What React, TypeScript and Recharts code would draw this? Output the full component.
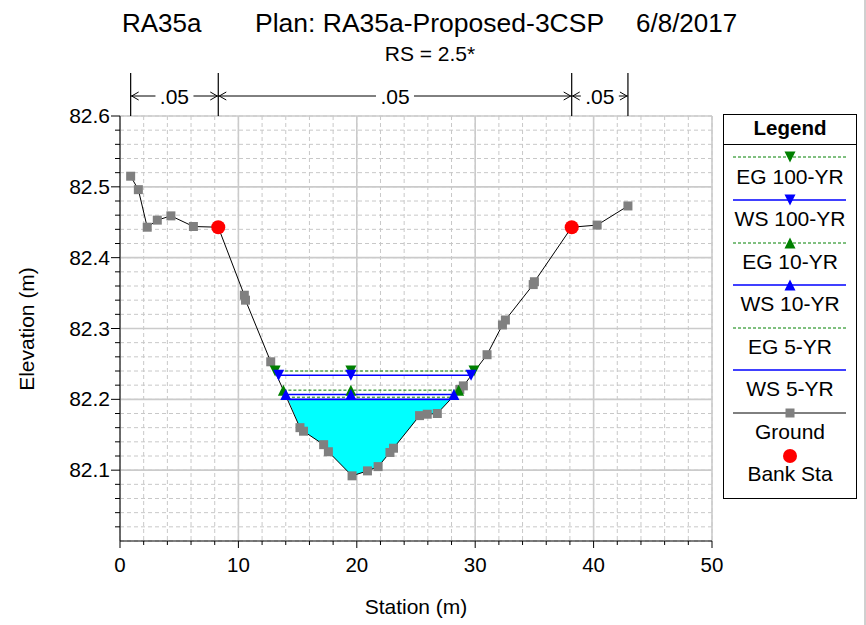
import React from 'react';
import {
  ComposedChart,
  Line,
  Area,
  XAxis,
  YAxis,
  CartesianGrid,
  ReferenceLine,
  Legend,
} from 'recharts';

// ---------- data ----------
const groundStations = [
  0.9, 1.55, 2.3, 3.15, 4.3, 6.2, 8.3, 10.5, 10.6, 12.73, 15.2, 15.5, 17.2, 17.6, 19.6, 20.9,
  21.8, 22.8, 23.1, 25.3, 25.95, 26.8, 28.7, 29.0, 31.0, 32.3, 32.55, 34.9, 35.0, 38.15, 40.3, 42.9,
];
const groundElevations = [
  82.515, 82.496, 82.443, 82.453, 82.459, 82.444, 82.443, 82.347, 82.34, 82.253, 82.16, 82.155,
  82.136, 82.126, 82.092, 82.099, 82.105, 82.125, 82.131, 82.177, 82.179, 82.18, 82.214, 82.219,
  82.263, 82.305, 82.312, 82.362, 82.366, 82.443, 82.446, 82.473,
];
const bankStations = [8.3, 38.15];
const bankElevations = [82.443, 82.443];

// water surface / energy grade profiles: stations where drawn (ends + middle marker)
const eg100Stations = [13.1, 19.5, 29.9];
const ws100Stations = [13.4, 19.5, 29.65];
const eg10Stations = [13.8, 19.5, 28.6];
const ws10Stations = [14.0, 19.5, 28.2];
const eg5Stations = [14.1, 28.0];
const ws5Stations = [14.2, 27.9];
const eg100Level = 82.24;
const ws100Level = 82.234;
const eg10Level = 82.213;
const ws10Level = 82.207;
const eg5Level = 82.203;
const ws5Level = 82.2;

// Manning's n
const nBreaks = [0.9, 8.3, 38.15, 42.9];
const nValues = ['.05', '.05', '.05'];

// axes
const xMajorTicks = [0, 10, 20, 30, 40, 50];
const yMajorTicks = [82.1, 82.2, 82.3, 82.4, 82.5, 82.6];
const xTicks = Array.from({ length: 26 }, (_, i) => i * 2);
const yTicks = Array.from({ length: 30 }, (_, i) => +(82.02 + i * 0.02).toFixed(2));

const legendNames = ['EG 100-YR', 'WS 100-YR', 'EG 10-YR', 'WS 10-YR', 'EG 5-YR', 'WS 5-YR', 'Ground', 'Bank Sta'];

// ---------- derived series ----------
const groundData = groundStations.map((x, i) => ({ x, y: groundElevations[i] }));
const bankData = bankStations.map((x, i) => ({ x, y: bankElevations[i] }));
const prof = (st: number[], lvl: number) => st.map((x) => ({ x, y: lvl }));
const fillData = [
  { x: ws5Stations[0], y: [ws5Level, ws5Level] },
  ...groundData
    .filter((p) => p.x > ws5Stations[0] && p.x < ws5Stations[1])
    .map((p) => ({ x: p.x, y: [p.y, ws5Level] })),
  { x: ws5Stations[1], y: [ws5Level, ws5Level] },
];

const FONT = 'Liberation Sans, Arial, Helvetica, sans-serif';
const GREEN = '#008000';
const BLUE = '#0000ff';

const tri = (cx: number, cy: number, down: boolean, color: string, key?: any) => {
  const w = 5.5, h = 5.5;
  const pts = down
    ? `${cx - w},${cy - h} ${cx + w},${cy - h} ${cx},${cy + h}`
    : `${cx - w},${cy + h} ${cx + w},${cy + h} ${cx},${cy - h}`;
  return <polygon key={key} points={pts} fill={color} />;
};

const markerDot = (down: boolean, color: string) => (props: any) =>
  tri(props.cx, props.cy, down, color, `m-${props.index}`);

const groundDot = (props: any) => (
  <rect key={`g-${props.index}`} x={props.cx - 4.5} y={props.cy - 4.5} width={9} height={9} fill="#808080" />
);

const bankDot = (props: any) => (
  <circle key={`b-${props.index}`} cx={props.cx} cy={props.cy} r={7} fill="#ff0000" stroke="none" />
);

const isMajorX = (v: number) => xMajorTicks.some((t) => Math.abs(t - v) < 1e-6);
const isMajorY = (v: number) => yMajorTicks.some((t) => Math.abs(t - v) < 1e-6);

const XTick = (props: any) => {
  const { x, y, payload } = props;
  const major = isMajorX(payload.value);
  return (
    <g>
      <line x1={x} x2={x} y1={y} y2={y + (major ? 7 : 4)} stroke="#000" />
      {major && (
        <text x={x} y={y + 31} textAnchor="middle" fontSize={20.5} fontFamily={FONT} fill="#000">
          {payload.value}
        </text>
      )}
    </g>
  );
};

const YTick = (props: any) => {
  const { x, y, payload } = props;
  const major = isMajorY(payload.value);
  return (
    <g>
      <line x1={x - (major ? 9 : 5)} x2={x} y1={y} y2={y} stroke="#000" />
      {major && (
        <text x={x - 10} y={y + 7} textAnchor="end" fontSize={21} fontFamily={FONT} fill="#000">
          {Number(payload.value).toFixed(1)}
        </text>
      )}
    </g>
  );
};

const NTick = (props: any) => {
  const top = Math.min(props.y1, props.y2);
  return <line x1={props.x1} x2={props.x1} y1={top - 43} y2={top} stroke="#000" strokeWidth={1.2} />;
};

const NArrow = (label: string) => (props: any) => {
  const { x1, x2 } = props;
  const y = Math.min(props.y1, props.y2) - 20;
  const a = Math.min(x1, x2);
  const b = Math.max(x1, x2);
  const mid = (a + b) / 2;
  return (
    <g>
      <line x1={a} x2={b} y1={y} y2={y} stroke="#000" />
      <polyline points={`${a + 8},${y - 4} ${a + 1},${y} ${a + 8},${y + 4}`} fill="none" stroke="#000" />
      <polyline points={`${b - 8},${y - 4} ${b - 1},${y} ${b - 8},${y + 4}`} fill="none" stroke="#000" />
      <rect x={mid - 19} y={y - 11} width={38} height={22} fill="#fff" />
      <text x={mid} y={y + 8} textAnchor="middle" fontSize={21} fontFamily={FONT} fill="#000">
        {label}
      </text>
    </g>
  );
};

const LegendBox = () => {
  const cx = 67;
  const lineY = [43, 86, 129, 171, 214, 256, 299];
  const textY = [70, 112, 155, 197, 240, 282, 325, 367];
  const sample = (i: number) => {
    const y = lineY[i];
    const isEG = i === 0 || i === 2 || i === 4;
    const color = i === 6 ? '#000' : isEG ? GREEN : BLUE;
    return (
      <g key={`s${i}`}>
        <line
          x1={10}
          x2={123}
          y1={y}
          y2={y}
          stroke={color}
          strokeWidth={isEG || i === 6 ? 1 : 1.5}
          strokeDasharray={isEG ? '3 2' : undefined}
        />
        {i === 0 && tri(cx, y, true, GREEN)}
        {i === 1 && tri(cx, y, true, BLUE)}
        {i === 2 && tri(cx, y, false, GREEN)}
        {i === 3 && tri(cx, y, false, BLUE)}
        {i === 6 && <rect x={cx - 4.5} y={y - 4.5} width={9} height={9} fill="#808080" />}
      </g>
    );
  };
  return (
    <svg width={135} height={386} style={{ display: 'block' }}>
      <rect x={0.5} y={0.5} width={133} height={384} fill="#fff" stroke="#000" />
      <text x={cx} y={21} textAnchor="middle" fontSize={20.5} fontWeight="bold" fontFamily={FONT}>
        Legend
      </text>
      <line x1={0.5} x2={133.5} y1={30.5} y2={30.5} stroke="#000" />
      {lineY.map((_, i) => sample(i))}
      <circle cx={cx} cy={342} r={7} fill="#ff0000" />
      {legendNames.map((n, i) => (
        <text key={n} x={cx} y={textY[i]} textAnchor="middle" fontSize={21} fontFamily={FONT} fill="#000">
          {n}
        </text>
      ))}
    </svg>
  );
};

export default function App() {
  return (
    <div
      style={{
        position: 'absolute',
        left: 0,
        top: 0,
        width: 866,
        height: 625,
        background: '#fff',
        fontFamily: FONT,
        overflow: 'hidden',
      }}
    >
      <ComposedChart width={866} height={625} margin={{ top: 116, right: 154, bottom: 44, left: 60 }}>
        <CartesianGrid stroke="#c8c8c8" strokeDasharray="4 3" />
        <CartesianGrid
          stroke="#cbcbcb"
          strokeWidth={1.6}
          horizontalValues={yMajorTicks}
          verticalValues={xMajorTicks}
        />
        <XAxis
          type="number"
          dataKey="x"
          domain={[0, 50]}
          ticks={xTicks}
          interval={0}
          allowDataOverflow
          tickLine={false}
          tickSize={0}
          tickMargin={0}
          height={40}
          axisLine={{ stroke: '#000' }}
          tick={<XTick />}
        />
        <YAxis
          type="number"
          dataKey="y"
          domain={[82.0, 82.6]}
          ticks={yTicks}
          interval={0}
          allowDataOverflow
          tickLine={false}
          tickSize={0}
          tickMargin={0}
          width={60}
          axisLine={{ stroke: '#000' }}
          tick={<YTick />}
        />
        <Area
          data={fillData}
          dataKey="y"
          type="linear"
          fill="#00ffff"
          fillOpacity={1}
          stroke="none"
          isAnimationActive={false}
          legendType="none"
        />
        <Line data={groundData} dataKey="y" stroke="#000" strokeWidth={1} dot={groundDot} isAnimationActive={false} name="Ground" />
        <Line data={prof(eg5Stations, eg5Level)} dataKey="y" stroke={GREEN} strokeDasharray="3 2" dot={false} isAnimationActive={false} name="EG 5-YR" />
        <Line data={prof(ws5Stations, ws5Level)} dataKey="y" stroke={BLUE} strokeWidth={1.6} dot={false} isAnimationActive={false} name="WS 5-YR" />
        <Line data={prof(eg10Stations, eg10Level)} dataKey="y" stroke={GREEN} strokeDasharray="3 2" dot={markerDot(false, GREEN)} isAnimationActive={false} name="EG 10-YR" />
        <Line data={prof(ws10Stations, ws10Level)} dataKey="y" stroke={BLUE} strokeWidth={1.5} dot={markerDot(false, BLUE)} isAnimationActive={false} name="WS 10-YR" />
        <Line data={prof(eg100Stations, eg100Level)} dataKey="y" stroke={GREEN} strokeDasharray="3 2" dot={markerDot(true, GREEN)} isAnimationActive={false} name="EG 100-YR" />
        <Line data={prof(ws100Stations, ws100Level)} dataKey="y" stroke={BLUE} strokeWidth={1.5} dot={markerDot(true, BLUE)} isAnimationActive={false} name="WS 100-YR" />
        <Line
          data={bankData}
          dataKey="y"
          stroke="none"
          strokeWidth={0}
          dot={bankDot}
          activeDot={false}
          isAnimationActive={false}
          name="Bank Sta"
        />
        {nBreaks.map((s) => (
          <ReferenceLine key={`nb-${s}`} x={s} ifOverflow="visible" shape={NTick} />
        ))}
        {nValues.map((v, i) => (
          <ReferenceLine
            key={`na-${i}`}
            segment={[
              { x: nBreaks[i], y: 82.6 },
              { x: nBreaks[i + 1], y: 82.6 },
            ]}
            ifOverflow="visible"
            shape={NArrow(v)}
          />
        ))}
        <Legend
          layout="vertical"
          align="center"
          verticalAlign="middle"
          wrapperStyle={{ position: 'absolute', left: 723, top: 114, width: 135, height: 386 }}
          content={() => <LegendBox />}
        />
      </ComposedChart>
      <svg
        width={866}
        height={625}
        style={{ position: 'absolute', left: 0, top: 0, pointerEvents: 'none' }}
      >
        <g fontFamily={FONT} fill="#000">
          <text x={122} y={32} fontSize={26}>RA35a</text>
          <text x={255} y={32} fontSize={26.5}>Plan: RA35a-Proposed-3CSP</text>
          <text x={636} y={32} fontSize={26}>6/8/2017</text>
          <text x={430} y={61} fontSize={21} textAnchor="middle">RS = 2.5*</text>
          <text x={416} y={614} fontSize={21} textAnchor="middle">Station (m)</text>
          <text x={34} y={329} fontSize={21} textAnchor="middle" transform="rotate(-90 34 329)">
            Elevation (m)
          </text>
        </g>
        <line x1={865} x2={865} y1={0} y2={625} stroke="#a0a0a0" />
      </svg>
    </div>
  );
}
